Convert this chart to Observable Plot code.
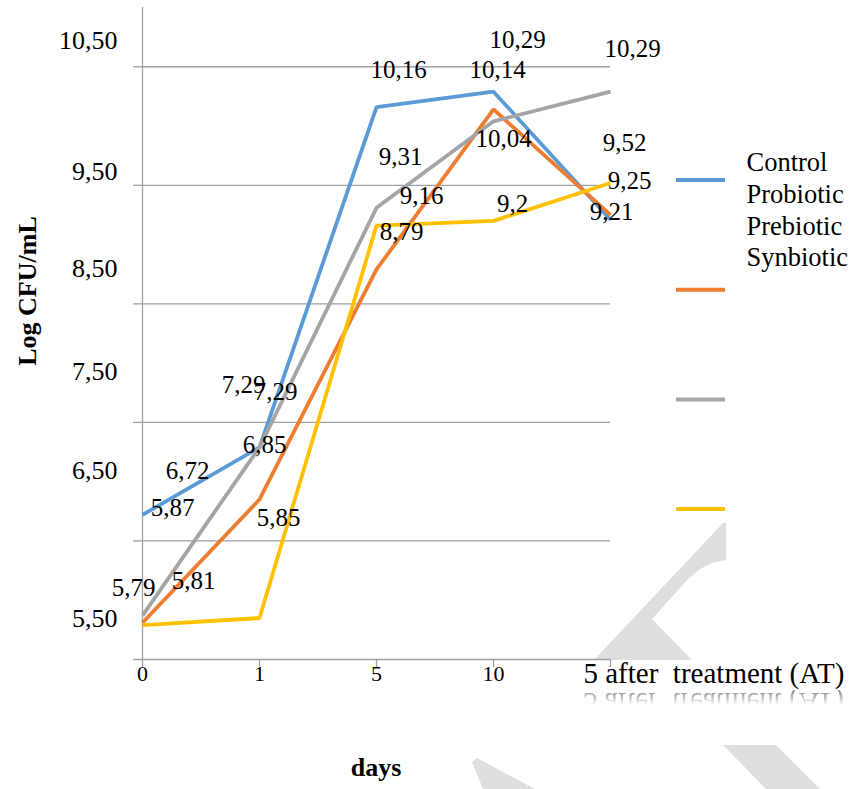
<!DOCTYPE html>
<html>
<head>
<meta charset="utf-8">
<script src="https://cdn.jsdelivr.net/npm/d3@7"></script>
<script src="https://cdn.jsdelivr.net/npm/@observablehq/plot@0.6"></script>
<style>
  html, body { margin: 0; padding: 0; background: #fff; }
  #chart svg text { white-space: pre; }
</style>
</head>
<body>
<div id="chart"></div>
<script>
// Sampling days and bacterial counts (Log CFU/mL) per treatment group
const days = ["0", "1", "5", "10", "5 after  treatment (AT)"];
const seriesNames = ["Control", "Probiotic", "Prebiotic", "Synbiotic"];
const control   = [6.72, 7.29, 10.16, 10.29, 9.21];
const probiotic = [5.81, 6.85, 8.79, 10.14, 9.25];
const prebiotic = [5.87, 7.29, 9.31, 10.04, 10.29];
const synbiotic = [5.79, 5.85, 9.16, 9.2, 9.52];
const yTicks = [5.5, 6.5, 7.5, 8.5, 9.5, 10.5];
const yTickLabels = ["5,50", "6,50", "7,50", "8,50", "9,50", "10,50"];
const yTitle = "Log CFU/mL";
const xTitle = "days";

// Styling
const colors = ["#5b9bd5", "#ed7d31", "#a5a5a5", "#ffc000"];
const axisGray = "#a0a0a0";
const serif = "'Liberation Serif', 'Times New Roman', serif";
// pixel nudges [dx, dy] of each value label, per series and day
const labelNudge = [
  [[45, -44], [-16, -62], [22, -37], [24, -52], [1, -8]],
  [[51, -42], [5, -54], [25, -37], [4, -39], [19, -34]],
  [[30, -108], [16, -55], [24, -51], [10, 18], [22, -43]],
  [[-9, -37], [19, -100], [45, -30], [19, -17], [14, -40]]
];
// pixel nudges of the y tick labels
const yLabelNudge = [-41, -70, -51, -35, -14, -26];

const values = [control, probiotic, prebiotic, synbiotic];
const rows = seriesNames.flatMap((s, i) =>
  days.map((d, j) => ({series: s, day: d, value: values[i][j], si: i, dj: j}))
);
const fmt = (v) => String(v).replace(".", ",");

const marks = [
  // grid and axes
  Plot.ruleY(yTicks.slice(1), {stroke: axisGray, strokeWidth: 1.3}),
  Plot.ruleY([5.5], {stroke: axisGray, strokeWidth: 1.3}),
  Plot.ruleX([days[0]], {y1: 5.5, y2: 11, stroke: axisGray, strokeWidth: 1.3}),
  Plot.axisY({ticks: yTicks, tickSize: 8, tickFormat: () => "", stroke: axisGray, strokeWidth: 1.3, label: null}),
  Plot.axisX({tickSize: 8, tickFormat: () => "", stroke: axisGray, strokeWidth: 1.3, label: null}),

  // series lines
  Plot.line(rows, {
    x: "day", y: "value", z: "series", stroke: "series",
    strokeWidth: 3.8, strokeLinejoin: "miter", strokeLinecap: "butt"
  }),

  // value labels
  ...rows.map((r) => Plot.text([r], {
    x: "day", y: "value", text: (d) => fmt(d.value),
    dx: labelNudge[r.si][r.dj][0], dy: labelNudge[r.si][r.dj][1],
    fontSize: 25, fill: "#000", fontFamily: serif
  })),

  // y tick labels
  ...yTicks.map((v, i) => Plot.text([{v, label: yTickLabels[i]}], {
    y: "v", text: "label", frameAnchor: "left", textAnchor: "end",
    dx: -24, dy: yLabelNudge[i], fontSize: 26, fill: "#000", fontFamily: serif
  })),

  // x tick labels
  Plot.text(days.slice(0, 4), {
    x: (d) => d, text: (d) => d, frameAnchor: "bottom", dy: 21,
    fontSize: 22, fill: "#000", fontFamily: serif
  }),
  Plot.text(days.slice(4), {
    x: (d) => d, text: (d) => d, frameAnchor: "bottom", textAnchor: "start",
    dx: -27, dy: 23, fontSize: 29, fill: "#000", fontFamily: serif
  }),

  // x axis title
  Plot.text([xTitle], {
    text: (d) => d, frameAnchor: "bottom", dy: 116,
    fontSize: 26, fontWeight: "bold", fill: "#000", fontFamily: serif
  }),

  // legend names
  ...seriesNames.map((s, i) => Plot.text([s], {
    text: (d) => d, frameAnchor: "top-right", textAnchor: "start",
    dx: 136, dy: 145 + i * 31.7, fontSize: 26.5, fill: "#000", fontFamily: serif
  }))
];

const svg = Plot.plot({
  width: 850,
  height: 789,
  marginLeft: 141,
  marginRight: 240,
  marginTop: 7,
  marginBottom: 130,
  style: {fontFamily: serif, background: "#fff", color: "#000"},
  x: {type: "point", domain: days, padding: 0},
  y: {domain: [5.5, 11]},
  color: {domain: seriesNames, range: colors},
  marks
});

const root = d3.select(svg);

// light watermark strokes behind the chart
const wm = root.insert("g", ":first-child").attr("fill", "#dedede");
[
  [[723, 523], [726, 523], [726, 560], [712, 563], [700, 569], [688, 579], [652, 619], [692, 660], [594, 660]],
  [[723, 745], [776, 745], [820, 789], [766, 789]],
  [[472, 762], [477, 758], [535, 789], [483, 789]]
].forEach((pts) => wm.append("polygon").attr("points", pts.map((p) => p.join(",")).join(" ")));

// rotated y axis title, centred on the left margin
root.append("text")
  .attr("transform", "translate(36,291) rotate(-90)")
  .attr("text-anchor", "middle")
  .attr("font-family", serif).attr("font-size", 26).attr("font-weight", "bold")
  .attr("fill", "#000")
  .text(yTitle);

// legend swatches (right of the plot frame)
seriesNames.forEach((s, i) => {
  root.append("line")
    .attr("x1", 676).attr("x2", 725)
    .attr("y1", 180 + i * 109.7).attr("y2", 180 + i * 109.7)
    .attr("stroke", colors[i]).attr("stroke-width", 4);
});

// faded mirror image under the last category label
const defs = root.append("defs");
const grad = defs.append("linearGradient").attr("id", "reflFade")
  .attr("gradientUnits", "userSpaceOnUse")
  .attr("x1", 0).attr("x2", 0).attr("y1", 692).attr("y2", 705);
grad.append("stop").attr("offset", 0).attr("stop-color", "#fff").attr("stop-opacity", 0.8);
grad.append("stop").attr("offset", 1).attr("stop-color", "#fff").attr("stop-opacity", 0);
defs.append("mask").attr("id", "reflMask")
  .attr("maskUnits", "userSpaceOnUse")
  .attr("x", 560).attr("y", 690).attr("width", 300).attr("height", 22)
  .append("rect").attr("x", 560).attr("y", 690).attr("width", 300).attr("height", 22)
  .attr("fill", "url(#reflFade)");
const blur = defs.append("filter").attr("id", "reflBlur");
blur.append("feGaussianBlur").attr("stdDeviation", 0.6);
root.append("g").attr("mask", "url(#reflMask)")
  .append("text")
  .attr("x", 583).attr("y", 691)
  .attr("text-anchor", "start")
  .attr("transform", "translate(0,1384) scale(1,-1)")
  .attr("font-family", serif).attr("font-size", 29)
  .attr("fill", "#7a7a7a").attr("filter", "url(#reflBlur)")
  .style("white-space", "pre")
  .text(days[4]);

document.getElementById("chart").append(svg);
</script>
</body>
</html>
